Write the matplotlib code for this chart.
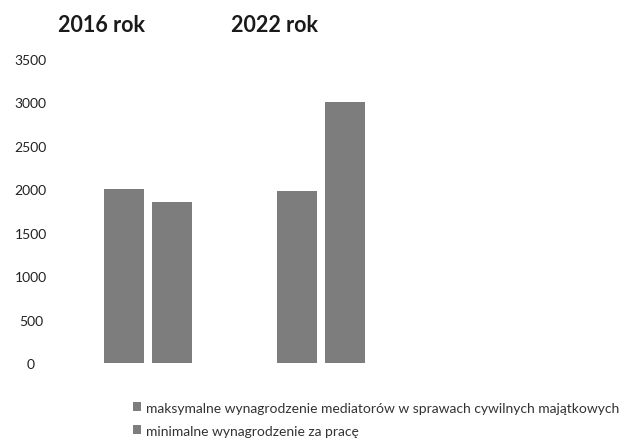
import matplotlib.pyplot as plt
import numpy as np

plt.rcParams['font.family'] = ['Lato', 'DejaVu Sans']

years = ['2016 rok', '2022 rok']
series_names = ['maksymalne wynagrodzenie mediatorów w sprawach cywilnych majątkowych',
                'minimalne wynagrodzenie za pracę']
mediator_max = [2000, 1980]
min_wage = [1850, 3000]
yticks = [0, 500, 1000, 1500, 2000, 2500, 3000, 3500]

bar_color = '#7d7d7d'
x = np.arange(len(years))
w = 0.23
off = 0.14

fig = plt.figure(figsize=(6.3, 4.39), dpi=100)
ax = fig.add_axes([60 / 630, 75 / 439, 440 / 630, 304 / 439])

b1 = ax.bar(x - off, mediator_max, w, color=bar_color, label=series_names[0])
b2 = ax.bar(x + off, min_wage, w, color=bar_color, label=series_names[1])

ax.set_ylim(0, 3500)
ax.set_xlim(-0.509, 2.035)
ax.set_yticks(yticks)
ax.set_yticklabels([str(v) for v in yticks], fontsize=10, color='#222222', ha='center')
ax.set_xticks([])
ax.tick_params(axis='y', length=0, pad=21)
for s in ax.spines.values():
    s.set_visible(False)

# year headings above each group
for xi, lab in zip(x, years):
    ax.text(xi - 0.27, 1.115, lab, transform=ax.get_xaxis_transform(),
            ha='center', va='center', fontsize=15.5, fontweight='bold', color='#1a1a1a')

fig.legend(handles=[b1, b2], labels=series_names, loc='upper left',
           bbox_to_anchor=(127 / 630, 1 - 397 / 439), frameon=False,
           fontsize=10, handlelength=0.6, handleheight=0.6, handletextpad=0.4,
           labelspacing=0.8, borderaxespad=0, labelcolor='#333333')

fig.savefig('out.png', dpi=100)
